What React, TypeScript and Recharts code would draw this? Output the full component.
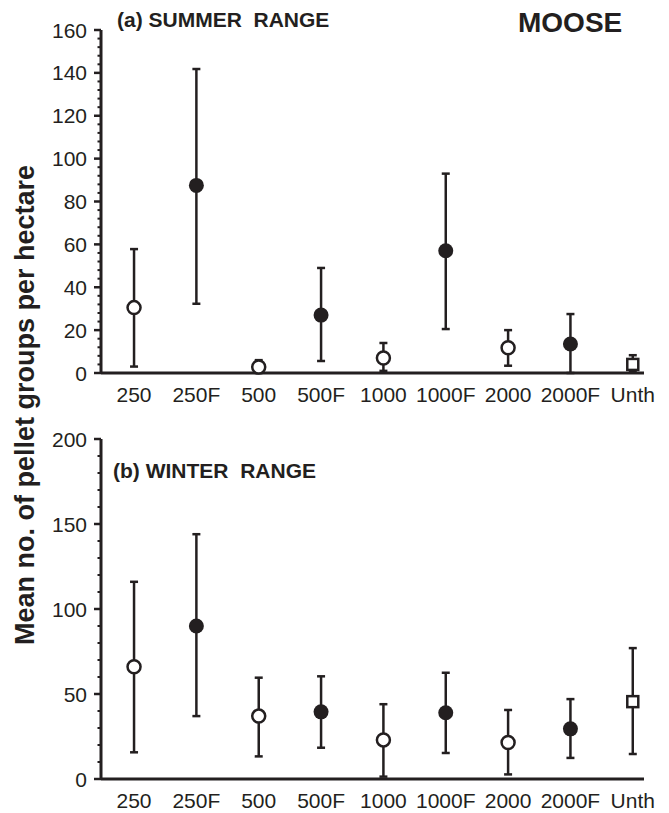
import React from 'react';
import { ScatterChart, Scatter, XAxis, YAxis, ErrorBar } from 'recharts';

const INK = '#231f20';
const FONT = '"Liberation Sans", Arial, Helvetica, sans-serif';

const categories = ['250', '250F', '500', '500F', '1000', '1000F', '2000', '2000F', 'Unth'];
const markers = ['open', 'filled', 'open', 'filled', 'open', 'filled', 'open', 'filled', 'square'];

// (a) summer range
const summerMean = [30.5, 87.5, 2.8, 27, 7, 57, 11.8, 13.5, 4];
const summerLow = [3, 32.3, 0, 5.6, 1, 20.5, 3.4, 0, 0.5];
const summerHigh = [57.8, 141.8, 6, 49, 14, 93, 20, 27.5, 8.3];

// (b) winter range
const winterMean = [66, 90, 37, 39.5, 23, 39, 21.5, 29.5, 45.5];
const winterLow = [15.7, 37, 13.3, 18.4, 1.4, 15.3, 2.7, 12.4, 14.7];
const winterHigh = [116, 144, 59.6, 60.4, 44, 62.5, 40.6, 47, 77];

const summerTicks = Array.from({ length: 41 }, (_, i) => i * 4);
const winterTicks = Array.from({ length: 21 }, (_, i) => i * 10);

const buildRows = (mean: number[], low: number[], high: number[]) =>
  categories.map((c, i) => ({
    x: i,
    name: c,
    y: mean[i],
    err: [mean[i] - low[i], high[i] - mean[i]],
    marker: markers[i],
  }));

const OpenDot = (p: any) => (
  <circle cx={p.cx} cy={p.cy} r={6.5} fill="#fff" stroke={INK} strokeWidth={2.5} />
);
const FilledDot = (p: any) => <circle cx={p.cx} cy={p.cy} r={7.5} fill={INK} />;
const OpenSquare = (p: any) => (
  <rect x={p.cx - 5.5} y={p.cy - 5.5} width={11} height={11} fill="#fff" stroke={INK} strokeWidth={2.5} />
);

const makeYTick = (majorStep: number) => (props: any) => {
  const { x, y, payload } = props;
  const major = payload.value % majorStep === 0;
  return (
    <g>
      <line x1={x - (major ? 7 : 3.5)} x2={x} y1={y} y2={y} stroke={INK} strokeWidth={major ? 2.5 : 2} />
      {major && (
        <text x={x - 14} y={y} dy="0.36em" textAnchor="end" fontSize={21} fill={INK} fontFamily={FONT}>
          {payload.value}
        </text>
      )}
    </g>
  );
};

interface PanelProps {
  rows: any[];
  yMax: number;
  ticks: number[];
  majorStep: number;
  height: number;
  top: number;
  marginTop: number;
  xAxisHeight: number;
}

const Panel: React.FC<PanelProps> = ({ rows, yMax, ticks, majorStep, height, top, marginTop, xAxisHeight }) => {
  const groups: [string, any][] = [
    ['open', OpenDot],
    ['filled', FilledDot],
    ['square', OpenSquare],
  ];
  return (
    <div style={{ position: 'absolute', left: 0, top }}>
      <ScatterChart width={669} height={height} margin={{ top: marginTop, right: 25, bottom: 0, left: 0 }}>
        <XAxis
          type="number"
          dataKey="x"
          domain={[-0.53, 8.18]}
          ticks={[0, 1, 2, 3, 4, 5, 6, 7, 8]}
          tickFormatter={(i: number) => categories[i]}
          interval={0}
          height={xAxisHeight}
          tickLine={false}
          tickSize={0}
          tickMargin={14}
          axisLine={{ stroke: INK, strokeWidth: 3 }}
          tick={{ fill: INK, fontSize: 21, fontFamily: FONT }}
        />
        <YAxis
          type="number"
          dataKey="y"
          domain={[0, yMax]}
          ticks={ticks}
          interval={0}
          width={101}
          tickLine={false}
          tickSize={0}
          tickMargin={0}
          axisLine={{ stroke: INK, strokeWidth: 3 }}
          tick={makeYTick(majorStep)}
        />
        {groups.map(([kind, shape]) => (
          <Scatter
            key={kind}
            data={rows.filter((r) => r.marker === kind)}
            shape={shape}
            isAnimationActive={false}
          >
            <ErrorBar dataKey="err" direction="y" width={4} stroke={INK} strokeWidth={2.5} />
          </Scatter>
        ))}
      </ScatterChart>
    </div>
  );
};

export default function App() {
  const summerRows = buildRows(summerMean, summerLow, summerHigh);
  const winterRows = buildRows(winterMean, winterLow, winterHigh);
  return (
    <div style={{ position: 'absolute', left: 0, top: 0, width: 669, height: 813, background: '#fff' }}>
      <Panel rows={summerRows} yMax={160} ticks={summerTicks} majorStep={20} height={410} top={0} marginTop={30} xAxisHeight={37} />
      <Panel rows={winterRows} yMax={200} ticks={winterTicks} majorStep={50} height={403} top={410} marginTop={29} xAxisHeight={34} />
      <svg width={669} height={813} style={{ position: 'absolute', left: 0, top: 0, pointerEvents: 'none' }}>
        <g fontFamily={FONT} fontWeight="bold" fill={INK}>
          <text x={117} y={27} fontSize={21} style={{ whiteSpace: 'pre' }}>(a) SUMMER  RANGE</text>
          <text x={518} y={32} fontSize={28}>MOOSE</text>
          <text x={113} y={478} fontSize={21} style={{ whiteSpace: 'pre' }}>(b) WINTER  RANGE</text>
          <text x={34} y={405} fontSize={27} textAnchor="middle" transform="rotate(-90 34 405)">
            Mean no. of pellet groups per hectare
          </text>
        </g>
      </svg>
    </div>
  );
}
